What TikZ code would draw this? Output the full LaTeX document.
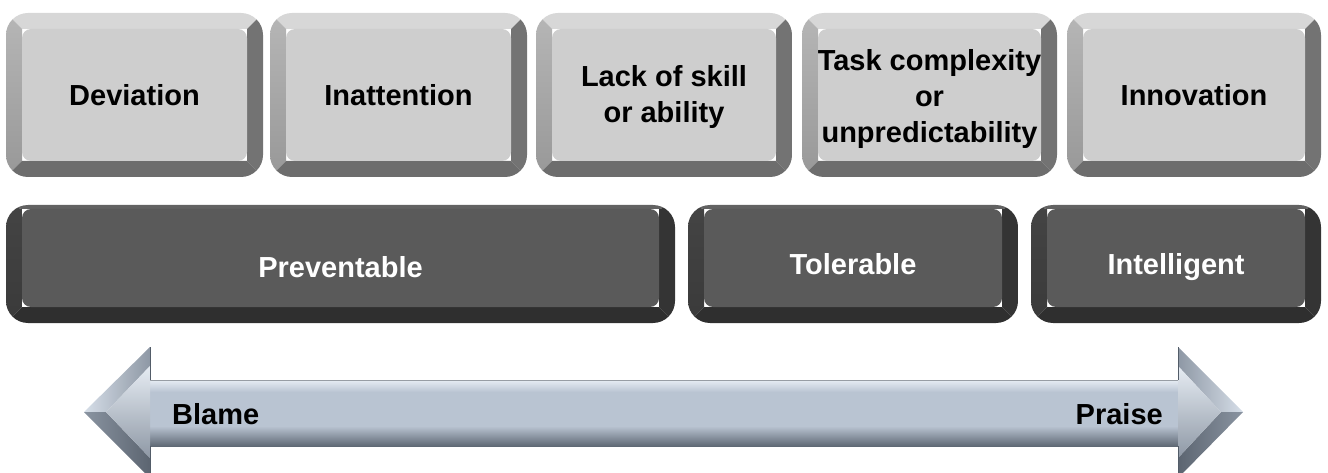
\documentclass[tikz,border=0pt]{standalone}
\usepackage{fontspec}
\setmainfont{Liberation Sans}

% light key palette
\definecolor{lkface}{HTML}{CECECE}
\definecolor{lktop}{HTML}{D7D7D7}
\definecolor{lkleftA}{HTML}{B6B6B6}
\definecolor{lkleftB}{HTML}{989898}
\definecolor{lkright}{HTML}{737373}
\definecolor{lkbottom}{HTML}{6D6D6D}
% dark key palette
\definecolor{dkface}{HTML}{5A5A5A}
\definecolor{dktop}{HTML}{626262}
\definecolor{dkleftA}{HTML}{444444}
\definecolor{dkleftB}{HTML}{3A3A3A}
\definecolor{dkright}{HTML}{343434}
\definecolor{dkbottom}{HTML}{2F2F2F}
% arrow palette
\definecolor{arrbody}{HTML}{B9C4D2}
\definecolor{arrhi}{HTML}{E6ECF3}
\definecolor{arrlo}{HTML}{5F6975}
\definecolor{arrtipA}{HTML}{D6DEE8}
\definecolor{arrtipB}{HTML}{8E98A5}
\definecolor{arrlowA}{HTML}{8A94A1}
\definecolor{arrlowB}{HTML}{5C6571}
\definecolor{arredge}{HTML}{525C68}

% bevelled key: x1 y1 x2 y2 palette top-bevel side/bottom-bevel
\newcommand\keycap[7]{%
  \begin{scope}
    \clip[rounded corners=22pt] (#1,#2) rectangle (#3,#4);
    \fill[#5top] (#1,#2) -- (#3,#2) -- ({#3-#7},{#2+#6}) -- ({#1+#7},{#2+#6}) -- cycle;
    \shade[top color=#5leftA, bottom color=#5leftB]
      (#1,#2) -- ({#1+#7},{#2+#6}) -- ({#1+#7},{#4-#7}) -- (#1,#4) -- cycle;
    \fill[#5right] (#3,#2) -- (#3,#4) -- ({#3-#7},{#4-#7}) -- ({#3-#7},{#2+#6}) -- cycle;
    \fill[#5bottom] (#1,#4) -- ({#1+#7},{#4-#7}) -- ({#3-#7},{#4-#7}) -- (#3,#4) -- cycle;
    \fill[#5face, rounded corners=9pt] ({#1+#7},{#2+#6}) rectangle ({#3-#7},{#4-#7});
  \end{scope}}

\begin{document}
\begin{tikzpicture}[x=1pt, y=-1pt,
  keytext/.style={font=\fontsize{29}{36}\selectfont\bfseries, align=center, inner sep=0pt},
  lighttext/.style={keytext, text=black},
  darktext/.style={keytext, text=white, anchor=base}]

\useasboundingbox (0,0) rectangle (1328,473);
\clip (0,0) rectangle (1328,473);

% top row of light keys
\keycap{6}{13}{263}{177}{lk}{16}{16}
\keycap{270}{13}{527}{177}{lk}{16}{16}
\keycap{536}{13}{792}{177}{lk}{16}{16}
\keycap{802}{13}{1057}{177}{lk}{16}{16}
\keycap{1067}{13}{1321}{177}{lk}{16}{16}

\node[lighttext, anchor=base] (dev)   at (134.5,106) {Deviation};
\node[lighttext, anchor=base] (inat)  at (398.5,106) {Inattention};
\node[lighttext] (lack)  at (664,97)   {Lack of skill\\or ability};
\node[lighttext] (task)  at (929.5,99) {Task complexity\\or\\unpredictability};
\node[lighttext, anchor=base] (innov) at (1194,106)  {Innovation};

% bottom row of dark keys
\keycap{6}{205}{675}{323}{dk}{4}{16}
\keycap{688}{205}{1018}{323}{dk}{4}{16}
\keycap{1031}{205}{1321}{323}{dk}{4}{16}

\node[darktext] (prev)  at (340.5,277) {Preventable};
\node[darktext] (tol)   at (853,274)   {Tolerable};
\node[darktext] (intel) at (1176,274)  {Intelligent};

% double-headed bevelled arrow: shaft
\fill[arrbody] (149,380) rectangle (1179,446);
\shade[top color=arrhi, bottom color=arrbody] (149,380) rectangle (1179,392);
\shade[top color=arrbody, bottom color=arrlo] (149,426) rectangle (1179,446);
\draw[arredge!60, line width=0.6pt] (150,380) -- (1178,380);

% left head
\shade[left color=arrtipA, right color=arrtipB]
  (84,412) -- (150,347) -- (150,366) -- (106,412) -- cycle;
\shade[left color=arrlowA, right color=arrlowB]
  (84,412) -- (106,412) -- (150,458) -- (150,478) -- cycle;
\shade[top color=arrhi, bottom color=arrtipB]
  (106,412) -- (150,366) -- (150,458) -- cycle;
\draw[arredge, line width=1pt] (150,347) -- (150,380) (150,446) -- (150,478);

% right head
\shade[right color=arrtipA, left color=arrtipB]
  (1243,412) -- (1178,347) -- (1178,366) -- (1221,412) -- cycle;
\shade[right color=arrlowA, left color=arrlowB]
  (1243,412) -- (1221,412) -- (1178,458) -- (1178,478) -- cycle;
\shade[top color=arrhi, bottom color=arrtipB]
  (1221,412) -- (1178,366) -- (1178,458) -- cycle;
\draw[arredge, line width=1pt] (1178,347) -- (1178,380) (1178,446) -- (1178,478);

\node[keytext, anchor=base west] (blame)  at (172,424)  {Blame};
\node[keytext, anchor=base east] (praise) at (1163,424) {Praise};

\end{tikzpicture}
\end{document}
